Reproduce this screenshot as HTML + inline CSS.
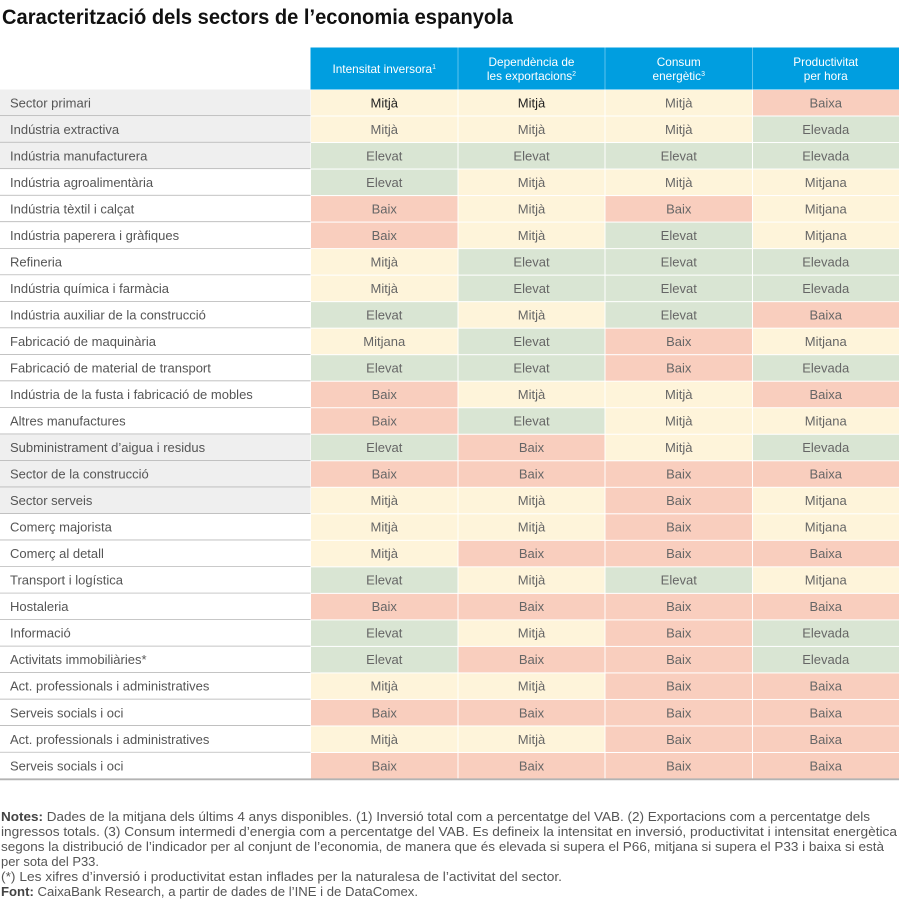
<!DOCTYPE html>
<html><head><meta charset="utf-8"><style>
html,body{margin:0;padding:0;background:#fff;}
svg{display:block;font-family:"Liberation Sans",Arial,sans-serif;}
.t{font-size:21px;font-weight:bold;fill:#111;}
.h{font-size:11.8px;fill:#fff;text-anchor:middle;}
.l{font-size:13px;fill:#555;}
.v{font-size:13px;fill:#666;text-anchor:middle;}
.d{fill:#222;}
.n{font-size:13px;fill:#555;}
.b{font-weight:bold;fill:#444;}
.Y{fill:#fef4da;}.G{fill:#d9e5d3;}.R{fill:#f9cebe;}
.gl{fill:#efefef;}.wl{fill:#fff;}
.ln{stroke:#a9a9a9;stroke-width:1.3;}
</style></head><body>
<svg width="900" height="919" viewBox="0 0 900 919" xmlns="http://www.w3.org/2000/svg">
<text class="t" x="2" y="24" textLength="511" lengthAdjust="spacingAndGlyphs">Caracterització dels sectors de l’economia espanyola</text>

<!-- header -->
<rect x="310.5" y="47.5" width="588.5" height="42" fill="#009ee0"/>
<line x1="458" y1="47.5" x2="458" y2="89.5" stroke="#5cc3ee" stroke-width="1"/>
<line x1="605" y1="47.5" x2="605" y2="89.5" stroke="#5cc3ee" stroke-width="1"/>
<line x1="752.5" y1="47.5" x2="752.5" y2="89.5" stroke="#5cc3ee" stroke-width="1"/>
<text class="h" x="384.25" y="73">Intensitat inversora<tspan font-size="7" dy="-4">1</tspan></text>
<text class="h" x="531.5" y="66">Dependència de</text>
<text class="h" x="531.5" y="80">les exportacions<tspan font-size="7" dy="-4">2</tspan></text>
<text class="h" x="678.75" y="66">Consum</text>
<text class="h" x="678.75" y="80">energètic<tspan font-size="7" dy="-4">3</tspan></text>
<text class="h" x="825.75" y="66">Productivitat</text>
<text class="h" x="825.75" y="80">per hora</text>

<!-- row 1 -->
<g transform="translate(0,89.5)">
<rect class="gl" x="0" y="0" width="310.5" height="26.5"/><line class="ln" x1="0" y1="26.5" x2="310.5" y2="26.5"/>
<rect class="Y" x="311" y="0.5" width="146.5" height="25.5"/><rect class="Y" x="458.5" y="0.5" width="146" height="25.5"/><rect class="Y" x="605.5" y="0.5" width="146.5" height="25.5"/><rect class="R" x="753" y="0.5" width="146" height="25.5"/>
<text class="l" x="10" y="17.8">Sector primari</text>
<text class="v d" x="384.25" y="17.8">Mitjà</text><text class="v d" x="531.5" y="17.8">Mitjà</text><text class="v" x="678.75" y="17.8">Mitjà</text><text class="v" x="825.75" y="17.8">Baixa</text>
</g>
<!-- row 2 -->
<g transform="translate(0,116.02)">
<rect class="gl" x="0" y="0" width="310.5" height="26.5"/><line class="ln" x1="0" y1="26.5" x2="310.5" y2="26.5"/>
<rect class="Y" x="311" y="0.5" width="146.5" height="25.5"/><rect class="Y" x="458.5" y="0.5" width="146" height="25.5"/><rect class="Y" x="605.5" y="0.5" width="146.5" height="25.5"/><rect class="G" x="753" y="0.5" width="146" height="25.5"/>
<text class="l" x="10" y="17.8">Indústria extractiva</text>
<text class="v" x="384.25" y="17.8">Mitjà</text><text class="v" x="531.5" y="17.8">Mitjà</text><text class="v" x="678.75" y="17.8">Mitjà</text><text class="v" x="825.75" y="17.8">Elevada</text>
</g>
<!-- row 3 -->
<g transform="translate(0,142.54)">
<rect class="gl" x="0" y="0" width="310.5" height="26.5"/><line class="ln" x1="0" y1="26.5" x2="310.5" y2="26.5"/>
<rect class="G" x="311" y="0.5" width="146.5" height="25.5"/><rect class="G" x="458.5" y="0.5" width="146" height="25.5"/><rect class="G" x="605.5" y="0.5" width="146.5" height="25.5"/><rect class="G" x="753" y="0.5" width="146" height="25.5"/>
<text class="l" x="10" y="17.8">Indústria manufacturera</text>
<text class="v" x="384.25" y="17.8">Elevat</text><text class="v" x="531.5" y="17.8">Elevat</text><text class="v" x="678.75" y="17.8">Elevat</text><text class="v" x="825.75" y="17.8">Elevada</text>
</g>
<!-- row 4 -->
<g transform="translate(0,169.06)">
<rect class="wl" x="0" y="0" width="310.5" height="26.5"/><line class="ln" x1="0" y1="26.5" x2="310.5" y2="26.5"/>
<rect class="G" x="311" y="0.5" width="146.5" height="25.5"/><rect class="Y" x="458.5" y="0.5" width="146" height="25.5"/><rect class="Y" x="605.5" y="0.5" width="146.5" height="25.5"/><rect class="Y" x="753" y="0.5" width="146" height="25.5"/>
<text class="l" x="10" y="17.8">Indústria agroalimentària</text>
<text class="v" x="384.25" y="17.8">Elevat</text><text class="v" x="531.5" y="17.8">Mitjà</text><text class="v" x="678.75" y="17.8">Mitjà</text><text class="v" x="825.75" y="17.8">Mitjana</text>
</g>
<!-- row 5 -->
<g transform="translate(0,195.58)">
<rect class="wl" x="0" y="0" width="310.5" height="26.5"/><line class="ln" x1="0" y1="26.5" x2="310.5" y2="26.5"/>
<rect class="R" x="311" y="0.5" width="146.5" height="25.5"/><rect class="Y" x="458.5" y="0.5" width="146" height="25.5"/><rect class="R" x="605.5" y="0.5" width="146.5" height="25.5"/><rect class="Y" x="753" y="0.5" width="146" height="25.5"/>
<text class="l" x="10" y="17.8">Indústria tèxtil i calçat</text>
<text class="v" x="384.25" y="17.8">Baix</text><text class="v" x="531.5" y="17.8">Mitjà</text><text class="v" x="678.75" y="17.8">Baix</text><text class="v" x="825.75" y="17.8">Mitjana</text>
</g>
<!-- row 6 -->
<g transform="translate(0,222.1)">
<rect class="wl" x="0" y="0" width="310.5" height="26.5"/><line class="ln" x1="0" y1="26.5" x2="310.5" y2="26.5"/>
<rect class="R" x="311" y="0.5" width="146.5" height="25.5"/><rect class="Y" x="458.5" y="0.5" width="146" height="25.5"/><rect class="G" x="605.5" y="0.5" width="146.5" height="25.5"/><rect class="Y" x="753" y="0.5" width="146" height="25.5"/>
<text class="l" x="10" y="17.8">Indústria paperera i gràfiques</text>
<text class="v" x="384.25" y="17.8">Baix</text><text class="v" x="531.5" y="17.8">Mitjà</text><text class="v" x="678.75" y="17.8">Elevat</text><text class="v" x="825.75" y="17.8">Mitjana</text>
</g>
<!-- row 7 -->
<g transform="translate(0,248.62)">
<rect class="wl" x="0" y="0" width="310.5" height="26.5"/><line class="ln" x1="0" y1="26.5" x2="310.5" y2="26.5"/>
<rect class="Y" x="311" y="0.5" width="146.5" height="25.5"/><rect class="G" x="458.5" y="0.5" width="146" height="25.5"/><rect class="G" x="605.5" y="0.5" width="146.5" height="25.5"/><rect class="G" x="753" y="0.5" width="146" height="25.5"/>
<text class="l" x="10" y="17.8">Refineria</text>
<text class="v" x="384.25" y="17.8">Mitjà</text><text class="v" x="531.5" y="17.8">Elevat</text><text class="v" x="678.75" y="17.8">Elevat</text><text class="v" x="825.75" y="17.8">Elevada</text>
</g>
<!-- row 8 -->
<g transform="translate(0,275.14)">
<rect class="wl" x="0" y="0" width="310.5" height="26.5"/><line class="ln" x1="0" y1="26.5" x2="310.5" y2="26.5"/>
<rect class="Y" x="311" y="0.5" width="146.5" height="25.5"/><rect class="G" x="458.5" y="0.5" width="146" height="25.5"/><rect class="G" x="605.5" y="0.5" width="146.5" height="25.5"/><rect class="G" x="753" y="0.5" width="146" height="25.5"/>
<text class="l" x="10" y="17.8">Indústria química i farmàcia</text>
<text class="v" x="384.25" y="17.8">Mitjà</text><text class="v" x="531.5" y="17.8">Elevat</text><text class="v" x="678.75" y="17.8">Elevat</text><text class="v" x="825.75" y="17.8">Elevada</text>
</g>
<!-- row 9 -->
<g transform="translate(0,301.66)">
<rect class="wl" x="0" y="0" width="310.5" height="26.5"/><line class="ln" x1="0" y1="26.5" x2="310.5" y2="26.5"/>
<rect class="G" x="311" y="0.5" width="146.5" height="25.5"/><rect class="Y" x="458.5" y="0.5" width="146" height="25.5"/><rect class="G" x="605.5" y="0.5" width="146.5" height="25.5"/><rect class="R" x="753" y="0.5" width="146" height="25.5"/>
<text class="l" x="10" y="17.8">Indústria auxiliar de la construcció</text>
<text class="v" x="384.25" y="17.8">Elevat</text><text class="v" x="531.5" y="17.8">Mitjà</text><text class="v" x="678.75" y="17.8">Elevat</text><text class="v" x="825.75" y="17.8">Baixa</text>
</g>
<!-- row 10 -->
<g transform="translate(0,328.18)">
<rect class="wl" x="0" y="0" width="310.5" height="26.5"/><line class="ln" x1="0" y1="26.5" x2="310.5" y2="26.5"/>
<rect class="Y" x="311" y="0.5" width="146.5" height="25.5"/><rect class="G" x="458.5" y="0.5" width="146" height="25.5"/><rect class="R" x="605.5" y="0.5" width="146.5" height="25.5"/><rect class="Y" x="753" y="0.5" width="146" height="25.5"/>
<text class="l" x="10" y="17.8">Fabricació de maquinària</text>
<text class="v" x="384.25" y="17.8">Mitjana</text><text class="v" x="531.5" y="17.8">Elevat</text><text class="v" x="678.75" y="17.8">Baix</text><text class="v" x="825.75" y="17.8">Mitjana</text>
</g>
<!-- row 11 -->
<g transform="translate(0,354.7)">
<rect class="wl" x="0" y="0" width="310.5" height="26.5"/><line class="ln" x1="0" y1="26.5" x2="310.5" y2="26.5"/>
<rect class="G" x="311" y="0.5" width="146.5" height="25.5"/><rect class="G" x="458.5" y="0.5" width="146" height="25.5"/><rect class="R" x="605.5" y="0.5" width="146.5" height="25.5"/><rect class="G" x="753" y="0.5" width="146" height="25.5"/>
<text class="l" x="10" y="17.8">Fabricació de material de transport</text>
<text class="v" x="384.25" y="17.8">Elevat</text><text class="v" x="531.5" y="17.8">Elevat</text><text class="v" x="678.75" y="17.8">Baix</text><text class="v" x="825.75" y="17.8">Elevada</text>
</g>
<!-- row 12 -->
<g transform="translate(0,381.22)">
<rect class="wl" x="0" y="0" width="310.5" height="26.5"/><line class="ln" x1="0" y1="26.5" x2="310.5" y2="26.5"/>
<rect class="R" x="311" y="0.5" width="146.5" height="25.5"/><rect class="Y" x="458.5" y="0.5" width="146" height="25.5"/><rect class="Y" x="605.5" y="0.5" width="146.5" height="25.5"/><rect class="R" x="753" y="0.5" width="146" height="25.5"/>
<text class="l" x="10" y="17.8">Indústria de la fusta i fabricació de mobles</text>
<text class="v" x="384.25" y="17.8">Baix</text><text class="v" x="531.5" y="17.8">Mitjà</text><text class="v" x="678.75" y="17.8">Mitjà</text><text class="v" x="825.75" y="17.8">Baixa</text>
</g>
<!-- row 13 -->
<g transform="translate(0,407.74)">
<rect class="wl" x="0" y="0" width="310.5" height="26.5"/><line class="ln" x1="0" y1="26.5" x2="310.5" y2="26.5"/>
<rect class="R" x="311" y="0.5" width="146.5" height="25.5"/><rect class="G" x="458.5" y="0.5" width="146" height="25.5"/><rect class="Y" x="605.5" y="0.5" width="146.5" height="25.5"/><rect class="Y" x="753" y="0.5" width="146" height="25.5"/>
<text class="l" x="10" y="17.8">Altres manufactures</text>
<text class="v" x="384.25" y="17.8">Baix</text><text class="v" x="531.5" y="17.8">Elevat</text><text class="v" x="678.75" y="17.8">Mitjà</text><text class="v" x="825.75" y="17.8">Mitjana</text>
</g>
<!-- row 14 -->
<g transform="translate(0,434.26)">
<rect class="gl" x="0" y="0" width="310.5" height="26.5"/><line class="ln" x1="0" y1="26.5" x2="310.5" y2="26.5"/>
<rect class="G" x="311" y="0.5" width="146.5" height="25.5"/><rect class="R" x="458.5" y="0.5" width="146" height="25.5"/><rect class="Y" x="605.5" y="0.5" width="146.5" height="25.5"/><rect class="G" x="753" y="0.5" width="146" height="25.5"/>
<text class="l" x="10" y="17.8">Subministrament d’aigua i residus</text>
<text class="v" x="384.25" y="17.8">Elevat</text><text class="v" x="531.5" y="17.8">Baix</text><text class="v" x="678.75" y="17.8">Mitjà</text><text class="v" x="825.75" y="17.8">Elevada</text>
</g>
<!-- row 15 -->
<g transform="translate(0,460.78)">
<rect class="gl" x="0" y="0" width="310.5" height="26.5"/><line class="ln" x1="0" y1="26.5" x2="310.5" y2="26.5"/>
<rect class="R" x="311" y="0.5" width="146.5" height="25.5"/><rect class="R" x="458.5" y="0.5" width="146" height="25.5"/><rect class="R" x="605.5" y="0.5" width="146.5" height="25.5"/><rect class="R" x="753" y="0.5" width="146" height="25.5"/>
<text class="l" x="10" y="17.8">Sector de la construcció</text>
<text class="v" x="384.25" y="17.8">Baix</text><text class="v" x="531.5" y="17.8">Baix</text><text class="v" x="678.75" y="17.8">Baix</text><text class="v" x="825.75" y="17.8">Baixa</text>
</g>
<!-- row 16 -->
<g transform="translate(0,487.3)">
<rect class="gl" x="0" y="0" width="310.5" height="26.5"/><line class="ln" x1="0" y1="26.5" x2="310.5" y2="26.5"/>
<rect class="Y" x="311" y="0.5" width="146.5" height="25.5"/><rect class="Y" x="458.5" y="0.5" width="146" height="25.5"/><rect class="R" x="605.5" y="0.5" width="146.5" height="25.5"/><rect class="Y" x="753" y="0.5" width="146" height="25.5"/>
<text class="l" x="10" y="17.8">Sector serveis</text>
<text class="v" x="384.25" y="17.8">Mitjà</text><text class="v" x="531.5" y="17.8">Mitjà</text><text class="v" x="678.75" y="17.8">Baix</text><text class="v" x="825.75" y="17.8">Mitjana</text>
</g>
<!-- row 17 -->
<g transform="translate(0,513.82)">
<rect class="wl" x="0" y="0" width="310.5" height="26.5"/><line class="ln" x1="0" y1="26.5" x2="310.5" y2="26.5"/>
<rect class="Y" x="311" y="0.5" width="146.5" height="25.5"/><rect class="Y" x="458.5" y="0.5" width="146" height="25.5"/><rect class="R" x="605.5" y="0.5" width="146.5" height="25.5"/><rect class="Y" x="753" y="0.5" width="146" height="25.5"/>
<text class="l" x="10" y="17.8">Comerç majorista</text>
<text class="v" x="384.25" y="17.8">Mitjà</text><text class="v" x="531.5" y="17.8">Mitjà</text><text class="v" x="678.75" y="17.8">Baix</text><text class="v" x="825.75" y="17.8">Mitjana</text>
</g>
<!-- row 18 -->
<g transform="translate(0,540.34)">
<rect class="wl" x="0" y="0" width="310.5" height="26.5"/><line class="ln" x1="0" y1="26.5" x2="310.5" y2="26.5"/>
<rect class="Y" x="311" y="0.5" width="146.5" height="25.5"/><rect class="R" x="458.5" y="0.5" width="146" height="25.5"/><rect class="R" x="605.5" y="0.5" width="146.5" height="25.5"/><rect class="R" x="753" y="0.5" width="146" height="25.5"/>
<text class="l" x="10" y="17.8">Comerç al detall</text>
<text class="v" x="384.25" y="17.8">Mitjà</text><text class="v" x="531.5" y="17.8">Baix</text><text class="v" x="678.75" y="17.8">Baix</text><text class="v" x="825.75" y="17.8">Baixa</text>
</g>
<!-- row 19 -->
<g transform="translate(0,566.86)">
<rect class="wl" x="0" y="0" width="310.5" height="26.5"/><line class="ln" x1="0" y1="26.5" x2="310.5" y2="26.5"/>
<rect class="G" x="311" y="0.5" width="146.5" height="25.5"/><rect class="Y" x="458.5" y="0.5" width="146" height="25.5"/><rect class="G" x="605.5" y="0.5" width="146.5" height="25.5"/><rect class="Y" x="753" y="0.5" width="146" height="25.5"/>
<text class="l" x="10" y="17.8">Transport i logística</text>
<text class="v" x="384.25" y="17.8">Elevat</text><text class="v" x="531.5" y="17.8">Mitjà</text><text class="v" x="678.75" y="17.8">Elevat</text><text class="v" x="825.75" y="17.8">Mitjana</text>
</g>
<!-- row 20 -->
<g transform="translate(0,593.38)">
<rect class="wl" x="0" y="0" width="310.5" height="26.5"/><line class="ln" x1="0" y1="26.5" x2="310.5" y2="26.5"/>
<rect class="R" x="311" y="0.5" width="146.5" height="25.5"/><rect class="R" x="458.5" y="0.5" width="146" height="25.5"/><rect class="R" x="605.5" y="0.5" width="146.5" height="25.5"/><rect class="R" x="753" y="0.5" width="146" height="25.5"/>
<text class="l" x="10" y="17.8">Hostaleria</text>
<text class="v" x="384.25" y="17.8">Baix</text><text class="v" x="531.5" y="17.8">Baix</text><text class="v" x="678.75" y="17.8">Baix</text><text class="v" x="825.75" y="17.8">Baixa</text>
</g>
<!-- row 21 -->
<g transform="translate(0,619.9)">
<rect class="wl" x="0" y="0" width="310.5" height="26.5"/><line class="ln" x1="0" y1="26.5" x2="310.5" y2="26.5"/>
<rect class="G" x="311" y="0.5" width="146.5" height="25.5"/><rect class="Y" x="458.5" y="0.5" width="146" height="25.5"/><rect class="R" x="605.5" y="0.5" width="146.5" height="25.5"/><rect class="G" x="753" y="0.5" width="146" height="25.5"/>
<text class="l" x="10" y="17.8">Informació</text>
<text class="v" x="384.25" y="17.8">Elevat</text><text class="v" x="531.5" y="17.8">Mitjà</text><text class="v" x="678.75" y="17.8">Baix</text><text class="v" x="825.75" y="17.8">Elevada</text>
</g>
<!-- row 22 -->
<g transform="translate(0,646.42)">
<rect class="wl" x="0" y="0" width="310.5" height="26.5"/><line class="ln" x1="0" y1="26.5" x2="310.5" y2="26.5"/>
<rect class="G" x="311" y="0.5" width="146.5" height="25.5"/><rect class="R" x="458.5" y="0.5" width="146" height="25.5"/><rect class="R" x="605.5" y="0.5" width="146.5" height="25.5"/><rect class="G" x="753" y="0.5" width="146" height="25.5"/>
<text class="l" x="10" y="17.8">Activitats immobiliàries*</text>
<text class="v" x="384.25" y="17.8">Elevat</text><text class="v" x="531.5" y="17.8">Baix</text><text class="v" x="678.75" y="17.8">Baix</text><text class="v" x="825.75" y="17.8">Elevada</text>
</g>
<!-- row 23 -->
<g transform="translate(0,672.94)">
<rect class="wl" x="0" y="0" width="310.5" height="26.5"/><line class="ln" x1="0" y1="26.5" x2="310.5" y2="26.5"/>
<rect class="Y" x="311" y="0.5" width="146.5" height="25.5"/><rect class="Y" x="458.5" y="0.5" width="146" height="25.5"/><rect class="R" x="605.5" y="0.5" width="146.5" height="25.5"/><rect class="R" x="753" y="0.5" width="146" height="25.5"/>
<text class="l" x="10" y="17.8">Act. professionals i administratives</text>
<text class="v" x="384.25" y="17.8">Mitjà</text><text class="v" x="531.5" y="17.8">Mitjà</text><text class="v" x="678.75" y="17.8">Baix</text><text class="v" x="825.75" y="17.8">Baixa</text>
</g>
<!-- row 24 -->
<g transform="translate(0,699.46)">
<rect class="wl" x="0" y="0" width="310.5" height="26.5"/><line class="ln" x1="0" y1="26.5" x2="310.5" y2="26.5"/>
<rect class="R" x="311" y="0.5" width="146.5" height="25.5"/><rect class="R" x="458.5" y="0.5" width="146" height="25.5"/><rect class="R" x="605.5" y="0.5" width="146.5" height="25.5"/><rect class="R" x="753" y="0.5" width="146" height="25.5"/>
<text class="l" x="10" y="17.8">Serveis socials i oci</text>
<text class="v" x="384.25" y="17.8">Baix</text><text class="v" x="531.5" y="17.8">Baix</text><text class="v" x="678.75" y="17.8">Baix</text><text class="v" x="825.75" y="17.8">Baixa</text>
</g>
<!-- row 25 -->
<g transform="translate(0,725.98)">
<rect class="wl" x="0" y="0" width="310.5" height="26.5"/><line class="ln" x1="0" y1="26.5" x2="310.5" y2="26.5"/>
<rect class="Y" x="311" y="0.5" width="146.5" height="25.5"/><rect class="Y" x="458.5" y="0.5" width="146" height="25.5"/><rect class="R" x="605.5" y="0.5" width="146.5" height="25.5"/><rect class="R" x="753" y="0.5" width="146" height="25.5"/>
<text class="l" x="10" y="17.8">Act. professionals i administratives</text>
<text class="v" x="384.25" y="17.8">Mitjà</text><text class="v" x="531.5" y="17.8">Mitjà</text><text class="v" x="678.75" y="17.8">Baix</text><text class="v" x="825.75" y="17.8">Baixa</text>
</g>
<!-- row 26 -->
<g transform="translate(0,752.5)">
<rect class="wl" x="0" y="0" width="310.5" height="26.5"/>
<rect class="R" x="311" y="0.5" width="146.5" height="25.5"/><rect class="R" x="458.5" y="0.5" width="146" height="25.5"/><rect class="R" x="605.5" y="0.5" width="146.5" height="25.5"/><rect class="R" x="753" y="0.5" width="146" height="25.5"/>
<text class="l" x="10" y="17.8">Serveis socials i oci</text>
<text class="v" x="384.25" y="17.8">Baix</text><text class="v" x="531.5" y="17.8">Baix</text><text class="v" x="678.75" y="17.8">Baix</text><text class="v" x="825.75" y="17.8">Baixa</text>
<line x1="0" y1="26.8" x2="899" y2="26.8" stroke="#b3b3b3" stroke-width="1.8"/>
</g>

<!-- notes -->
<text class="n" x="1" y="821" textLength="869" lengthAdjust="spacingAndGlyphs"><tspan class="b">Notes:</tspan> Dades de la mitjana dels últims 4 anys disponibles. (1) Inversió total com a percentatge del VAB. (2) Exportacions com a percentatge dels</text>
<text class="n" x="1" y="836" textLength="896" lengthAdjust="spacingAndGlyphs">ingressos totals. (3) Consum intermedi d’energia com a percentatge del VAB. Es defineix la intensitat en inversió, productivitat i intensitat energètica</text>
<text class="n" x="1" y="851" textLength="883" lengthAdjust="spacingAndGlyphs">segons la distribució de l’indicador per al conjunt de l’economia, de manera que és elevada si supera el P66, mitjana si supera el P33 i baixa si està</text>
<text class="n" x="1" y="866" textLength="98" lengthAdjust="spacingAndGlyphs">per sota del P33.</text>
<text class="n" x="1" y="881" textLength="561" lengthAdjust="spacingAndGlyphs">(*) Les xifres d’inversió i productivitat estan inflades per la naturalesa de l’activitat del sector.</text>
<text class="n" x="1" y="896" textLength="417" lengthAdjust="spacingAndGlyphs"><tspan class="b">Font:</tspan> CaixaBank Research, a partir de dades de l’INE i de DataComex.</text>
</svg>
</body></html>
